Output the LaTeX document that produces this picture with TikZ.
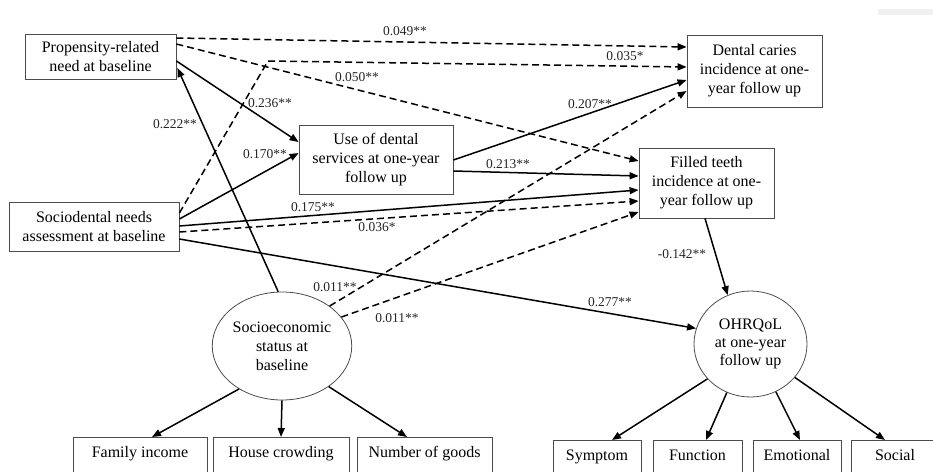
\documentclass[tikz,border=0pt]{standalone}
\usepackage{fontspec}
\setmainfont{Liberation Serif}
\usetikzlibrary{arrows.meta,shapes.geometric,calc}
\begin{document}
\begin{tikzpicture}[x=1pt,y=-1pt,
  box/.style={draw=black!70,line width=0.8pt,align=center,inner sep=0pt,
    font=\fontsize{16}{19}\selectfont},
  circ/.style={draw=black!70,line width=0.8pt,ellipse,align=center,inner sep=0pt,
    font=\fontsize{16}{19}\selectfont},
  ind/.style={draw=black!70,line width=0.8pt,anchor=north,inner xsep=0pt,inner ysep=0pt,
    text height=20pt,text depth=20pt,font=\fontsize{16}{19}\selectfont},
  lab/.style={inner sep=0pt,font=\fontsize{13.5}{16}\selectfont,text=black!85},
  sol/.style={line width=1.5pt,-{Triangle[length=9pt,width=7pt]}},
  dsh/.style={line width=1.5pt,dash pattern=on 7pt off 4pt,-{Triangle[length=9pt,width=7pt]}}]
\useasboundingbox (0,0) rectangle (933,471);
\clip (0,0) rectangle (933,471);
\fill[black!6] (878,9) rectangle (933,15);

% main nodes
\node[box,minimum width=151pt,minimum height=45pt] (prop) at (100.5,56.5) {Propensity-related\\need at baseline};
\node[box,minimum width=154pt,minimum height=69pt] (use) at (376,159.5) {Use of dental\\services at one-year\\follow up};
\node[box,minimum width=170pt,minimum height=49pt] (sd) at (94,226.5) {Sociodental needs\\assessment at baseline};
\node[box,minimum width=135pt,minimum height=72pt] (dc) at (754.5,71) {Dental caries\\incidence at one-\\year follow up};
\node[box,minimum width=135pt,minimum height=70pt] (ft) at (706.5,183) {Filled teeth\\incidence at one-\\year follow up};
\node[circ,minimum width=112pt,minimum height=108pt] (ses) at (282,346) {Socioeconomic\\status at\\baseline};
\node[circ,minimum width=113pt,minimum height=106pt,font=\fontsize{16}{18}\selectfont] (oh) at (750.5,344) {OHRQoL\\at one-year\\follow up};

% indicators
\node[ind,minimum width=134pt] (fi) at (140,437) {Family income};
\node[ind,minimum width=136pt] (hc) at (281,437) {House crowding};
\node[ind,minimum width=135pt] (ng) at (424.5,437) {Number of goods};
\node[ind,minimum width=88pt] (sy) at (597,440) {Symptom};
\node[ind,minimum width=89pt] (fu) at (697.5,440) {Function};
\node[ind,minimum width=88pt] (em) at (797,440) {Emotional};
\node[ind,minimum width=88pt] (so) at (895,440) {Social};

% structural paths
\draw[dsh] ($(prop.east)+(0,-18.5)$) -- ($(dc.west)+(0,-24)$);
\draw[dsh] ($(prop.east)+(0,-12.5)$) -- ($(ft.west)+(0,-22)$);
\coordinate (bend) at (268,61);
\draw[dsh] ($(sd.east)+(0,-13.5)$) -- (bend) -- ($(dc.west)+(0,-4)$);
\draw[sol] ($(prop.east)+(0,4.5)$) -- ($(use.west)+(0,-17.5)$);
\draw[sol] (ses.94) -- ($(prop.east)+(1,11.5)$);
\draw[sol] ($(sd.east)+(0,-7.5)$) -- ($(use.west)+(0,-6.5)$);
\draw[sol] ($(use.east)+(0,0.5)$) -- ($(dc.west)+(0,9)$);
\draw[sol] ($(use.east)+(0,11.5)$) -- ($(ft.west)+(0,-7)$);
\draw[sol] ($(sd.east)+(0,-0.5)$) -- ($(ft.west)+(0,7)$);
\draw[dsh] ($(sd.east)+(0,5.5)$) -- ($(ft.west)+(0,18)$);
\draw[sol] ($(sd.east)+(0,12.5)$) -- (oh.164);
\draw[dsh] (ses.40) -- ($(dc.west)+(0,20)$);
\draw[dsh] (ses.26) -- ($(ft.west)+(0,29)$);
\draw[sol] ($(ft.south)+(-1.5,0)$) -- (oh.115);

% measurement paths
\draw[sol] (ses.225) -- ($(fi.north)+(12,0)$);
\draw[sol] (ses.270) -- (hc.north);
\draw[sol] (ses.319) -- ($(ng.north)+(-17.5,0)$);
\draw[sol] (oh.219.5) -- ($(sy.north)+(15,0)$);
\draw[sol] (oh.244) -- ($(fu.north)+(8.5,0)$);
\draw[sol] (oh.298) -- ($(em.north)+(3,0)$);
\draw[sol] (oh.323) -- ($(so.north)+(-10,0)$);

% labels
\node[lab] (l1) at (405,31) {0.049**};
\node[lab] (l2) at (625,56) {0.035*};
\node[lab] (l3) at (357,77) {0.050**};
\node[lab] (l4) at (270,103) {0.236**};
\node[lab] (l5) at (175,124) {0.222**};
\node[lab] (l6) at (265,154) {0.170**};
\node[lab] (l7) at (590,104) {0.207**};
\node[lab] (l8) at (508,164) {0.213**};
\node[lab] (l9) at (313,207) {0.175**};
\node[lab] (l10) at (377,227) {0.036*};
\node[lab] (l11) at (335,287) {0.011**};
\node[lab] (l12) at (397,318) {0.011**};
\node[lab] (l13) at (610,302) {0.277**};
\node[lab] (l14) at (682,254) {-0.142**};
\end{tikzpicture}
\end{document}
